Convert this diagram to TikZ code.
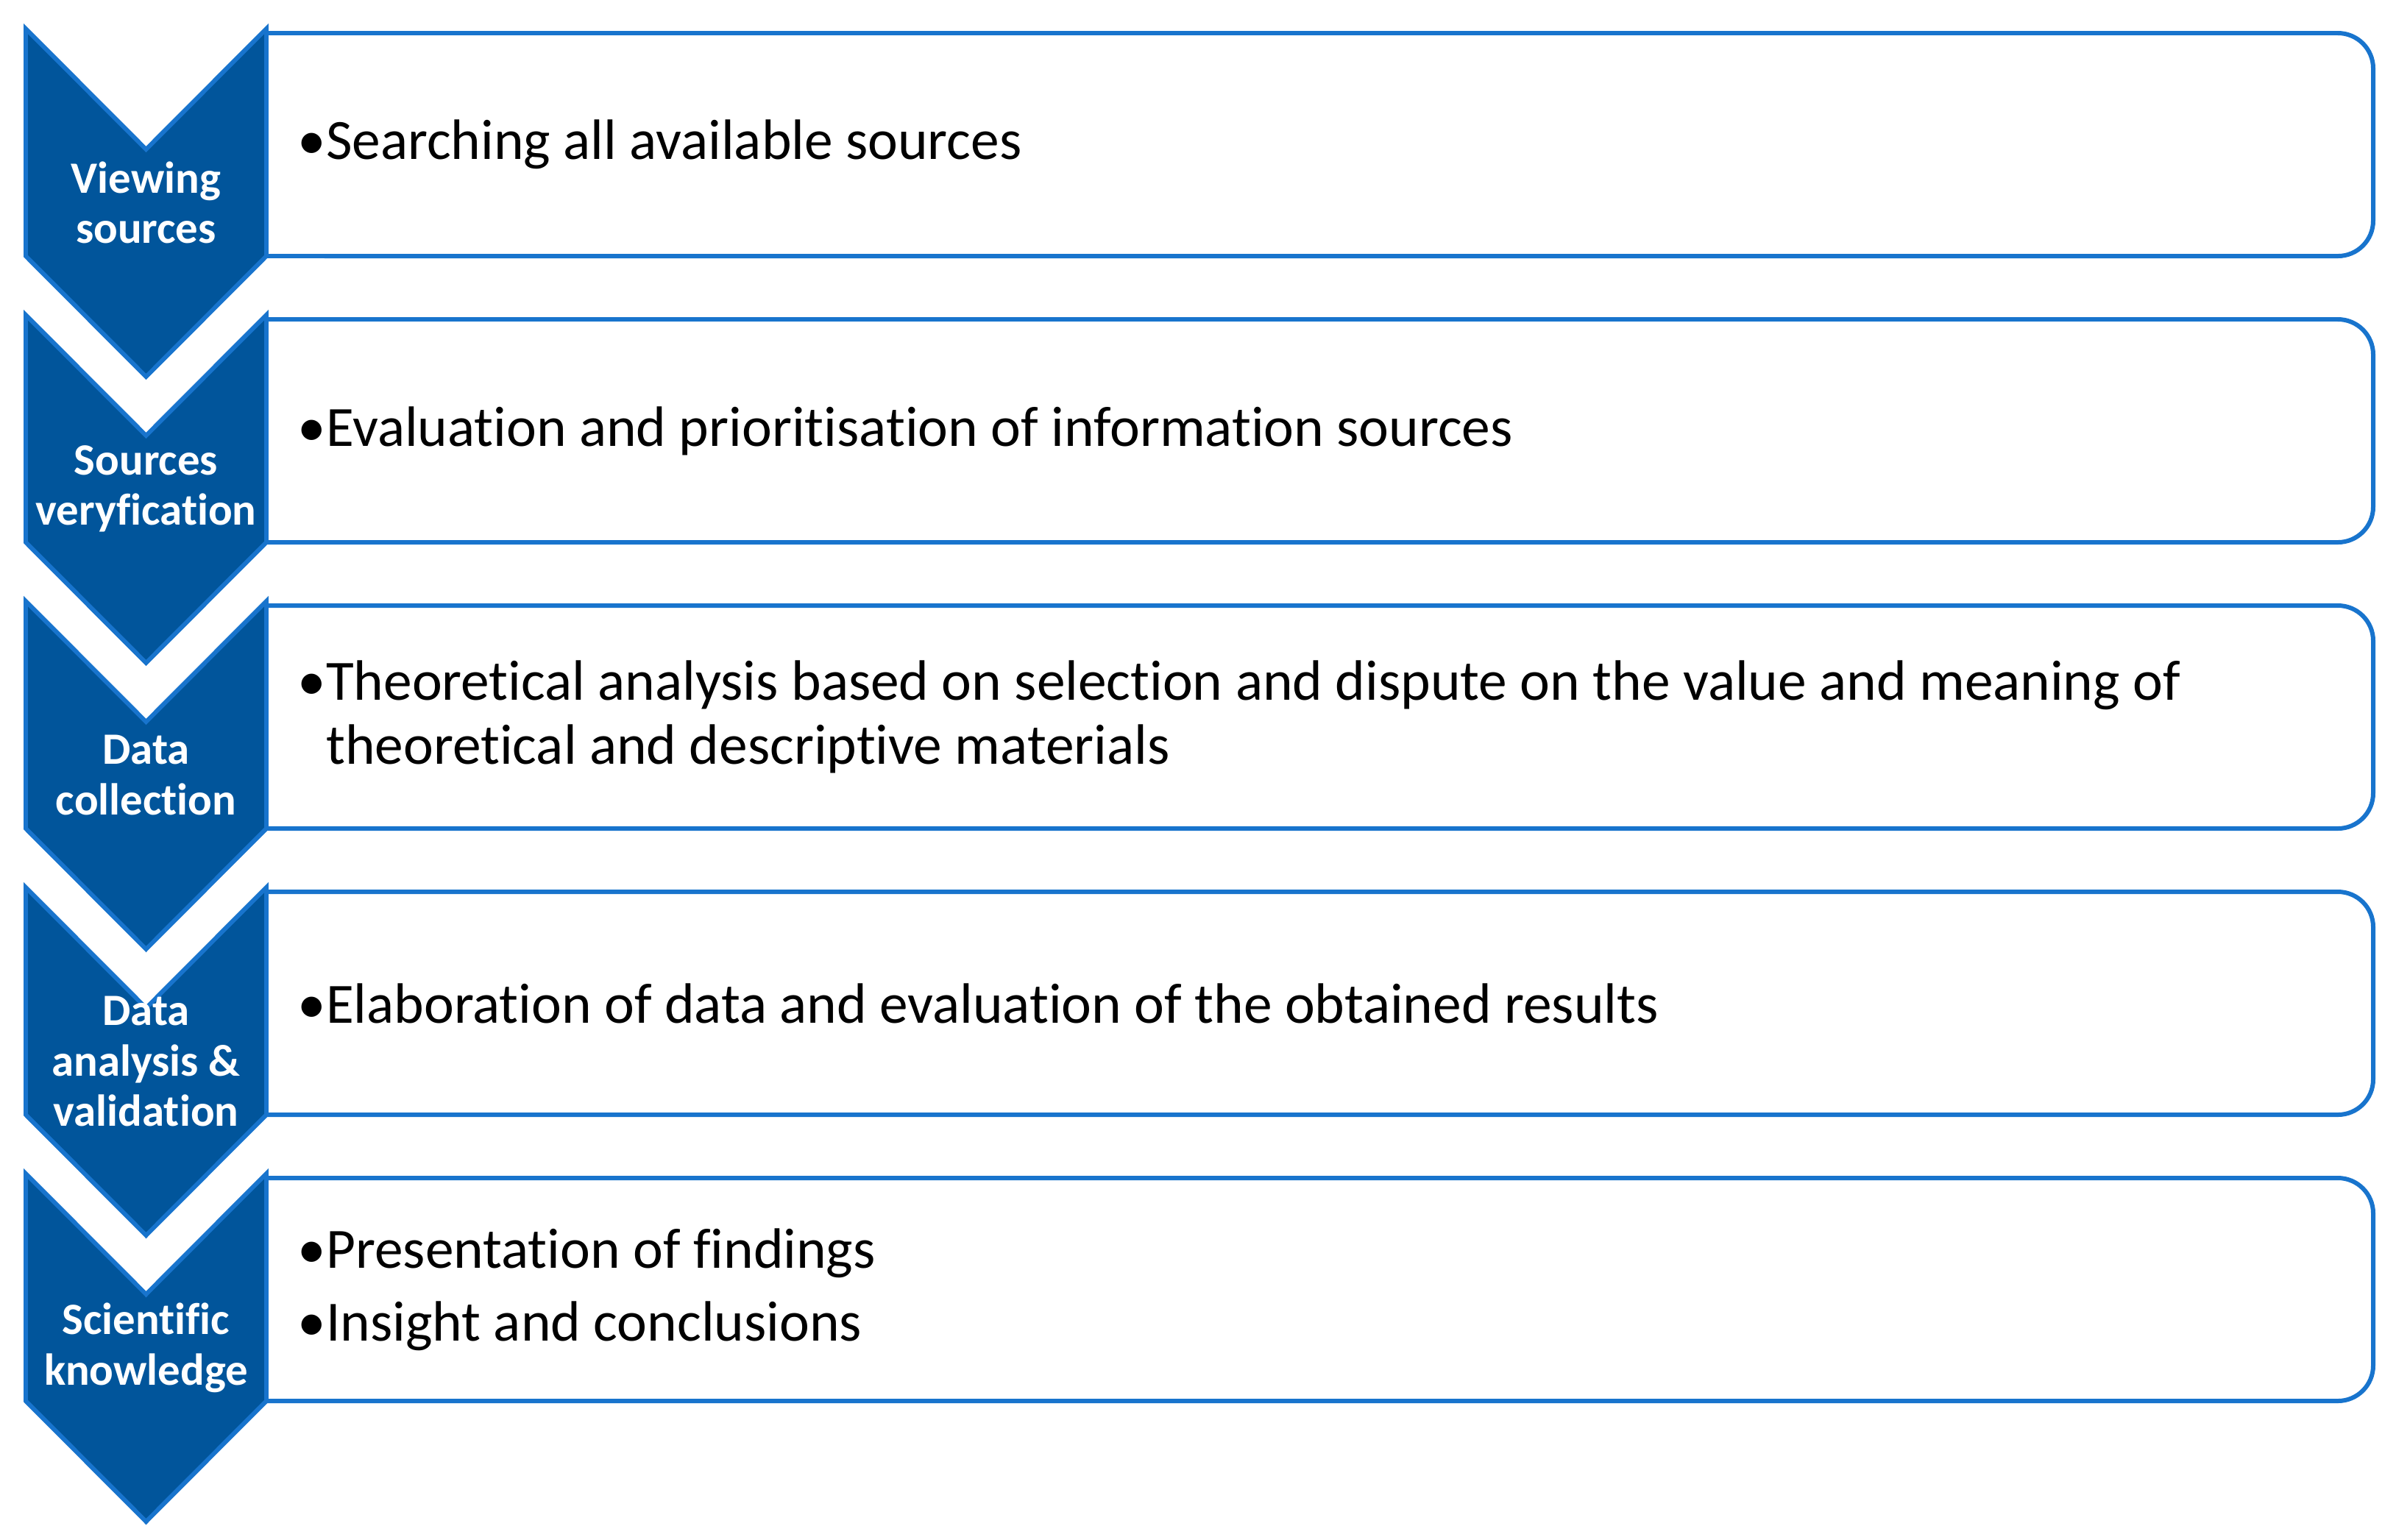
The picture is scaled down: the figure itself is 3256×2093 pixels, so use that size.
\documentclass[tikz,border=0pt]{standalone}
\usepackage{fontspec}
\setmainfont[Ligatures=NoCommon]{Carlito}
\definecolor{chevblue}{RGB}{1,85,155}
\definecolor{edgeblue}{RGB}{24,116,205}
\tikzset{
  chev/.style={fill=chevblue, draw=edgeblue, line width=1.7pt, line join=miter},
  panel/.style={draw=edgeblue, line width=1.7pt, fill=white},
  stage/.style={text=white, font=\fontsize{17.3}{19.5}\selectfont\bfseries, align=center, inner sep=0pt},
  point/.style={font=\fontsize{22}{24.75}\selectfont, align=left, anchor=west, inner sep=0pt}
}
\begin{document}
\begin{tikzpicture}[x=0.01cm, y=-0.01cm]
\useasboundingbox (0,0) rectangle (3256,2093);
\draw [panel] (362,45) -- (3177,45) arc[start angle=90, end angle=0, radius=4.8mm] -- (3225,300) arc[start angle=0, end angle=-90, radius=4.8mm] -- (362,348) -- cycle;
\draw [panel] (362,434) -- (3177,434) arc[start angle=90, end angle=0, radius=4.8mm] -- (3225,689) arc[start angle=0, end angle=-90, radius=4.8mm] -- (362,737) -- cycle;
\draw [panel] (362,823) -- (3177,823) arc[start angle=90, end angle=0, radius=4.8mm] -- (3225,1078) arc[start angle=0, end angle=-90, radius=4.8mm] -- (362,1126) -- cycle;
\draw [panel] (362,1212) -- (3177,1212) arc[start angle=90, end angle=0, radius=4.8mm] -- (3225,1467) arc[start angle=0, end angle=-90, radius=4.8mm] -- (362,1515) -- cycle;
\draw [panel] (362,1601) -- (3177,1601) arc[start angle=90, end angle=0, radius=4.8mm] -- (3225,1856) arc[start angle=0, end angle=-90, radius=4.8mm] -- (362,1904) -- cycle;
\draw [chev] (35,39) -- (198.5,203) -- (362,39) -- (362,348) -- (198.5,512) -- (35,348) -- cycle;
\node [stage] (viewing) at (198.5,275.5) {Viewing\\sources};
\draw [chev] (35,428) -- (198.5,592) -- (362,428) -- (362,737) -- (198.5,901) -- (35,737) -- cycle;
\node [stage] (verify) at (198.5,664.5) {Sources\\veryfication};
\draw [chev] (35,817) -- (198.5,981) -- (362,817) -- (362,1126) -- (198.5,1290) -- (35,1126) -- cycle;
\node [stage] (collect) at (198.5,1053.5) {Data\\collection};
\draw [chev] (35,1206) -- (198.5,1370) -- (362,1206) -- (362,1515) -- (198.5,1679) -- (35,1515) -- cycle;
\node [stage] (analyse) at (198.5,1442.5) {Data\\analysis \&\\validation};
\draw [chev] (35,1595) -- (198.5,1759) -- (362,1595) -- (362,1904) -- (198.5,2068) -- (35,1904) -- cycle;
\node [stage] (science) at (198.5,1831.5) {Scientific\\knowledge};
\node [point] (search) at (404,196.5) {•Searching all available sources};
\node [point] (evaluate) at (404,585.5) {•Evaluation and prioritisation of information sources};
\node [point] (theory) at (404,974.5) {•Theoretical analysis based on selection and dispute on the value and meaning of\\\phantom{•}theoretical and descriptive materials};
\node [point] (elaborate) at (404,1363.5) {•Elaboration of data and evaluation of the obtained results};
\node [point] (findings) at (404,1752.5) {•Presentation of findings\\[3.45pt]•Insight and conclusions};
\end{tikzpicture}
\end{document}
